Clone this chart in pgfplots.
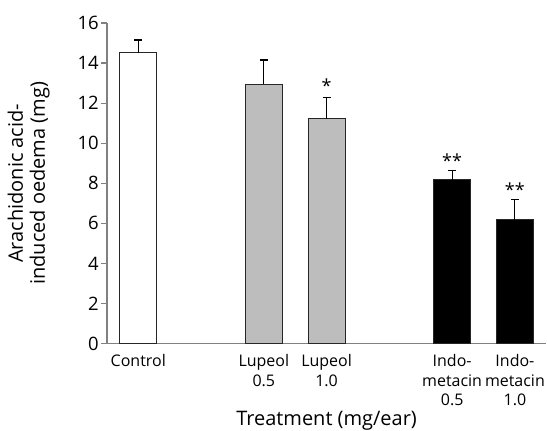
\documentclass[border=0pt]{standalone}
\usepackage{pgfplots}
\pgfplotsset{compat=1.18}
\usepackage{fontspec}
\setmainfont{Open Sans}

\definecolor{lupgray}{HTML}{BDBDBD}
\definecolor{axgray}{HTML}{808080}

\begin{document}
\begin{tikzpicture}
\begin{axis}[
    scale only axis,
    width=440pt, height=321pt,
    xmin=-0.5, xmax=6.5,
    ymin=0, ymax=16,
    axis x line*=bottom,
    axis y line*=left,
    axis line style={axgray, line width=1.4pt},
    ytick={0,2,...,16},
    ytick style={axgray, line width=1.2pt},
    tick align=outside,
    major tick length=6pt,
    /pgf/number format/assume math mode=true,
    yticklabel style={font=\fontsize{18.5}{20}\selectfont, inner sep=1pt, xshift=-1pt},
    xtick={0,2,3,5,6},
    xticklabels={Control, Lupeol\\0.5, Lupeol\\1.0, Indo-\\metacin\\0.5, Indo-\\metacin\\1.0},
    xtick style={draw=none},
    xticklabel style={font=\fontsize{16}{19.5}\selectfont, align=center, anchor=north, inner sep=0pt, yshift=-5pt},
    ylabel={Arachidonic acid-\\induced oedema (mg)},
    ylabel style={font=\fontsize{20}{22}\selectfont, align=center,
        at={([xshift=-57pt]axis description cs:0,0.5)},
        anchor=south, inner sep=0pt},
    xlabel={Treatment (mg/ear)},
    xlabel style={font=\fontsize{20}{22}\selectfont, at={(axis description cs:0.5,0)},
        anchor=base, inner sep=0pt, yshift=-82pt},
    clip=false,
    every node near coord/.append style={anchor=north, inner sep=0pt, font=\fontsize{18}{20}\selectfont},
]
% bars with upper error bars
\pgfplotsset{
    barerr/.style={
        ybar, bar width=0.59, bar shift=0pt, draw=black!85, line width=1.1pt,
        error bars/y dir=plus, error bars/y explicit,
        error bars/error bar style={black, line width=1.1pt},
        error bars/error mark options={rotate=90, mark size=4pt, line width=1.1pt, black},
    },
}
\addplot[barerr, fill=white] coordinates {(0,14.51) +- (0,0.64)};
\addplot[barerr, fill=lupgray] coordinates {(2,12.95) +- (0,1.20) (3,11.23) +- (0,1.04)};
\addplot[barerr, fill=black] coordinates {(5,8.17) +- (0,0.46) (6,6.18) +- (0,1.03)};

% significance stars
\addplot[only marks, mark=none, nodes near coords, point meta=explicit symbolic]
    table[meta=lab] {
    x y lab
    3 13.2 *
    5 9.47 **
    6 8.04 **
};

% frame the picture like the reference
\path (rel axis cs:0,0) ++(-107pt,-85pt) rectangle ([yshift=23pt]rel axis cs:1,1);
\end{axis}
\end{tikzpicture}
\end{document}
